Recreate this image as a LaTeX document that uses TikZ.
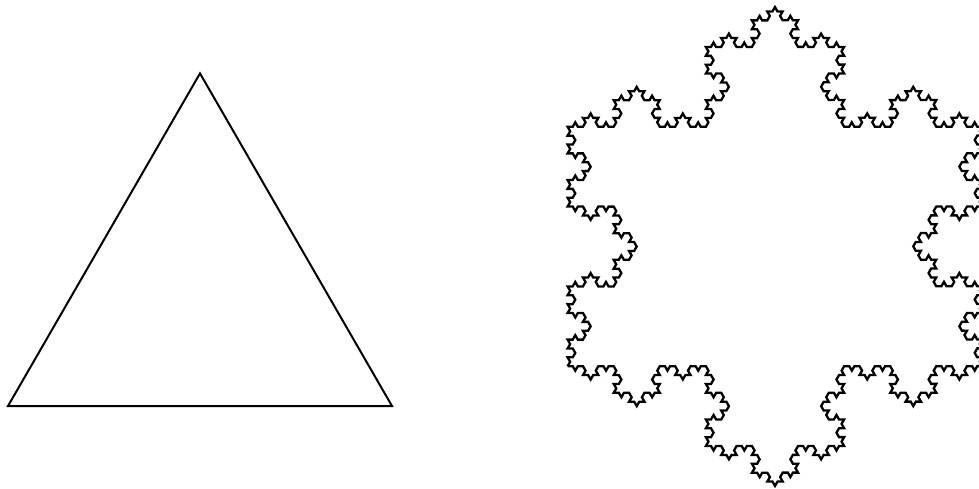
\documentclass[tikz,border=0pt]{standalone}
\usetikzlibrary{decorations.fractals}
\begin{document}
\begin{tikzpicture}[x=1pt,y=1pt,
  outline/.style={line width=2pt, line join=miter, black},
  flake/.style={line width=2.3pt, line join=miter, black, decoration=Koch snowflake}]
\useasboundingbox (0,0) rectangle (979,488);
% plain triangle
\coordinate (tA) at (8,82);
\coordinate (tB) at (392,82);
\coordinate (tC) at (200,414.6);
\draw[outline] (tA) -- (tC) -- (tB) -- cycle;
% Koch snowflake (order 4)
\coordinate (kA) at (567.6,121.8);
\coordinate (kC) at (775,481);
\coordinate (kB) at (982.4,121.8);
\draw[flake] decorate{ decorate{ decorate{ decorate{ (kA) -- (kC) -- (kB) -- cycle }}}};
\end{tikzpicture}
\end{document}
